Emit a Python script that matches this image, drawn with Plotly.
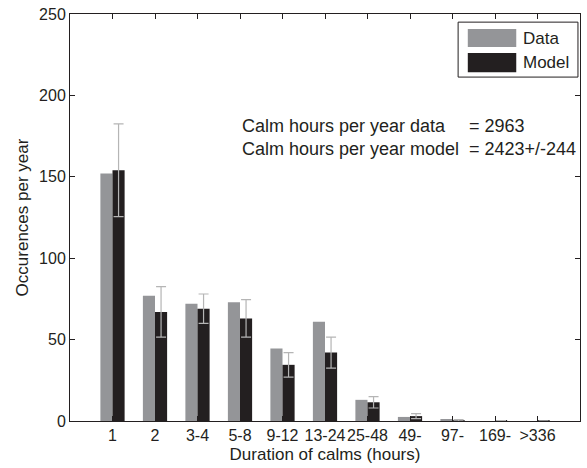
import plotly.graph_objects as go

# categories (duration of calms)
categories = ["1", "2", "3-4", "5-8", "9-12", "13-24", "25-48", "49-", "97-", "169-", ">336"]
# occurrences per year
data_vals = [152, 77, 72, 73, 44.5, 61, 13, 2.5, 0.7, 0, 0]
model_vals = [154, 67, 69, 63, 34.5, 42, 11.5, 3, 0.4, 0.1, 0.05]
model_err = [28.5, 15.5, 9, 11.5, 7.5, 9.5, 3.5, 1.5, 0.5, 0.2, 0.1]

series_names = ["Data", "Model"]
series_colors = ["#949598", "#231f20"]

info_labels = ["Calm hours per year data", "Calm hours per year model"]
info_values = ["= 2963", "= 2423+/-244"]

xpos = list(range(1, len(categories) + 1))
ink = "#231f20"

fig = go.Figure()

fig.add_trace(go.Bar(
    x=xpos, y=data_vals, name=series_names[0],
    marker=dict(color=series_colors[0], line=dict(width=0)),
    showlegend=False,
))
fig.add_trace(go.Bar(
    x=xpos, y=model_vals, name=series_names[1],
    marker=dict(color=series_colors[1], line=dict(width=0)),
    error_y=dict(type="data", array=model_err, color="#b5b5b5", thickness=1.2, width=5),
    showlegend=False,
))

# text block, labels and values aligned on the "="
for i, (lab, val) in enumerate(zip(info_labels, info_values)):
    ypos = 0.724 - i * 0.056
    fig.add_annotation(x=0.333, y=ypos, xref="paper", yref="paper", showarrow=False,
                       text=lab, xanchor="left", yanchor="middle",
                       font=dict(size=18, color=ink))
    fig.add_annotation(x=0.778, y=ypos, xref="paper", yref="paper", showarrow=False,
                       text=val, xanchor="left", yanchor="middle",
                       font=dict(size=18, color=ink))

# legend box drawn like the matlab one (large swatches)
fig.add_shape(type="rect", xref="paper", yref="paper", x0=0.761, x1=0.996, y0=0.845, y1=0.980,
              line=dict(color=ink, width=1), fillcolor="white", layer="above")
swatch_y = [(0.919, 0.963), (0.857, 0.904)]
text_y = [0.941, 0.882]
for name, col, (y0, y1), ty in zip(series_names, series_colors, swatch_y, text_y):
    fig.add_shape(type="rect", xref="paper", yref="paper", x0=0.780, x1=0.875, y0=y0, y1=y1,
                  line=dict(width=0), fillcolor=col, layer="above")
    fig.add_annotation(x=0.884, y=ty, xref="paper", yref="paper", showarrow=False,
                       text=name, xanchor="left", yanchor="middle",
                       font=dict(size=17, color=ink))

axis_common = dict(
    showline=True, linecolor=ink, linewidth=1, mirror="ticks",
    ticks="inside", ticklen=5, tickcolor=ink,
    showgrid=False, zeroline=False, automargin=False, tickangle=0,
    tickfont=dict(size=16, color=ink),
)

fig.update_layout(
    width=587, height=468,
    margin=dict(l=70, r=7, t=14, b=47),
    paper_bgcolor="white", plot_bgcolor="white",
    font=dict(family="Arial, Liberation Sans, sans-serif", color=ink),
    barmode="group", bargap=0.43, bargroupgap=0,
    showlegend=False,
    xaxis=dict(
        range=[0, 12], tickvals=xpos, ticktext=categories,
        title=dict(text="Duration of calms (hours)", font=dict(size=17), standoff=4),
        **axis_common,
    ),
    yaxis=dict(
        range=[0, 250], tickvals=[0, 50, 100, 150, 200, 250],
        title=dict(text="Occurences per year", font=dict(size=17), standoff=6),
        **axis_common,
    ),
)

fig.write_html("out.html", config={"displayModeBar": False},
               post_script="document.body.style.margin='0';")
